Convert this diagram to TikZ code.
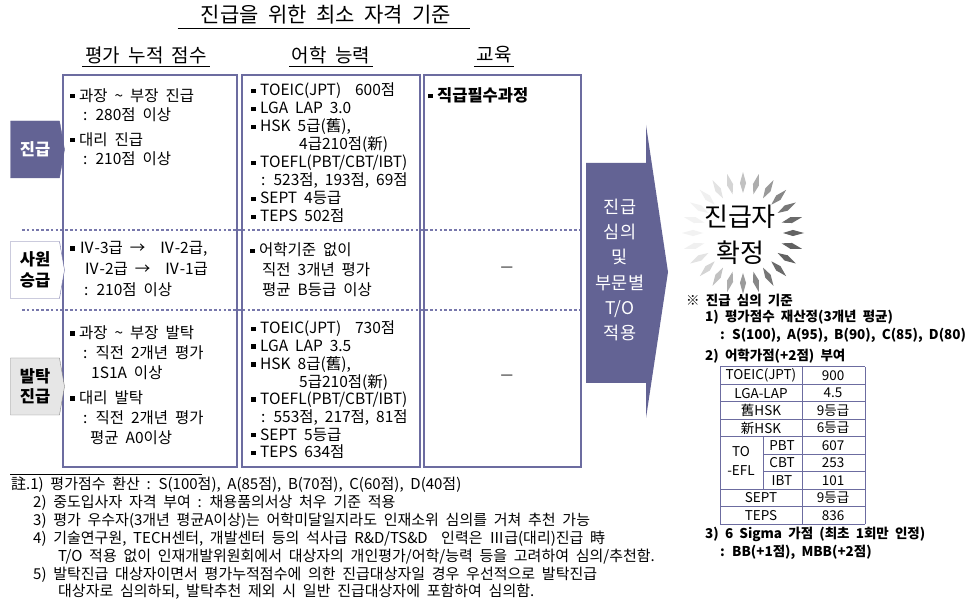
\documentclass[tikz,border=0pt]{standalone}
\usepackage{fontspec}
\setmainfont[WordSpace=2]{Noto Sans CJK KR}
\usetikzlibrary{shapes.symbols}

\definecolor{navy}{RGB}{99,99,148}
\definecolor{frame}{RGB}{108,108,160}
\definecolor{dots}{RGB}{120,120,172}
\definecolor{lgray}{RGB}{230,230,230}

\newcommand\sqbul{\raisebox{2.8pt}{\rule{4.5pt}{4.5pt}}\hspace{4.5pt}}

\tikzset{
  colbox/.style={draw=frame, line width=1.2pt},
  sepline/.style={draw=dots, line width=2.8pt, dash pattern=on 2.6pt off 2.2pt},
  tline/.style={draw=frame, line width=1pt},
  gradetag/.style={shape=signal, signal to=east, signal pointer angle=160,
    minimum width=54pt, minimum height=57pt, inner sep=0pt, align=center,
    font=\fontsize{16.5}{20.5}\selectfont\bfseries},
  txt/.style={anchor=west, inner sep=0pt, align=left},
  head/.style={inner sep=2.5pt, font=\fontsize{19}{22}\selectfont},
  note/.style={anchor=west, inner sep=0pt, font=\fontsize{13.5}{18}\selectfont\bfseries},
  cell/.style={inner sep=0pt, font=\fontsize{13.5}{16}\selectfont}
}

\begin{document}
\begin{tikzpicture}[x=1pt,y=-1pt]
  \fill[white] (0,0) rectangle (972,601);
  \useasboundingbox (0,0) rectangle (972,601);

  \node[inner sep=3pt, font=\fontsize{21}{24}\selectfont] (title) at (326,15) {진급을 위한 최소 자격 기준};
  \draw ([xshift=-20pt]title.south west) -- ([xshift=16pt]title.south east);

  \node[head] (h1) at (146,55) {평가 누적 점수};
  \node[head] (h2) at (331,55) {어학 능력};
  \node[head] (h3) at (494,55) {교육};
  \foreach \h in {h1,h2,h3}
    \draw (\h.south west) -- (\h.south east);

  \draw[sepline] (22,230) -- (581,230);
  \draw[sepline] (22,310) -- (581,310);

  \draw[colbox] (63,75) rectangle (237,467);
  \draw[colbox] (242,75) rectangle (420,467);
  \draw[colbox] (424,75) rectangle (581,467);

  \node[gradetag, fill=navy, draw=navy, text=white] (promo) at (35,149.5) {진급};
  \node[gradetag, fill=white, draw=frame] (staff) at (35,270) {사원\\승급};
  \node[gradetag, fill=lgray, draw=gray] (merit) at (35,386.5) {발탁\\진급};

  \node[txt, font=\fontsize{15.5}{19.5}\selectfont] (c1a) at (70,127) {%
    \sqbul 과장 \textasciitilde{} 부장 진급\\
    \hspace*{13pt}: 280점 이상\\[5pt]
    \sqbul 대리 진급\\
    \hspace*{13pt}: 210점 이상};
  \node[txt, font=\fontsize{15.5}{18}\selectfont] (c2a) at (251,153) {%
    \sqbul TOEIC(JPT)\ \ 600점\\
    \sqbul LGA LAP 3.0\\
    \sqbul HSK 5급(舊),\\
    \hspace*{48pt}4급210점(新)\\
    \sqbul TOEFL(PBT/CBT/IBT)\\
    \hspace*{10pt}: 523점, 193점, 69점\\
    \sqbul SEPT 4등급\\
    \sqbul TEPS 502점};
  \node[txt, font=\fontsize{16.5}{18}\selectfont\bfseries] (c3a) at (428,95) {\sqbul 직급필수과정};

  \node[txt, font=\fontsize{15.5}{21}\selectfont] (c1b) at (70,269) {%
    \sqbul Ⅳ-3급\ → \ Ⅳ-2급,\\
    \hspace*{14pt}Ⅳ-2급\ → \ Ⅳ-1급\\
    \hspace*{14pt}: 210점 이상};
  \node[txt, font=\fontsize{15.5}{20}\selectfont] (c2b) at (250,270) {%
    \sqbul 어학기준 없이\\
    \hspace*{12pt}직전 3개년 평가\\
    \hspace*{12pt}평균 B등급 이상};
  \node[inner sep=0pt, font=\fontsize{14}{18}\selectfont] (c3b) at (507,269) {—};

  \node[txt, font=\fontsize{15.5}{20}\selectfont] (c1c) at (70,385.5) {%
    \sqbul 과장 \textasciitilde{} 부장 발탁\\
    \hspace*{13pt}: 직전 2개년 평가\\
    \hspace*{21pt}1S1A 이상\\[5pt]
    \sqbul 대리 발탁\\
    \hspace*{13pt}: 직전 2개년 평가\\
    \hspace*{20pt}평균 A0이상};
  \node[txt, font=\fontsize{15.5}{17.7}\selectfont] (c2c) at (251,390) {%
    \sqbul TOEIC(JPT)\ \ 730점\\
    \sqbul LGA LAP 3.5\\
    \sqbul HSK 8급(舊),\\
    \hspace*{48pt}5급210점(新)\\
    \sqbul TOEFL(PBT/CBT/IBT)\\
    \hspace*{10pt}: 553점, 217점, 81점\\
    \sqbul SEPT 5등급\\
    \sqbul TEPS 634점};
  \node[inner sep=0pt, font=\fontsize{14}{18}\selectfont] (c3c) at (507,377) {—};

  \fill[navy] (586,163) -- (646,163) -- (646,125) -- (668,272) -- (646,418)
    -- (646,383) -- (586,383) -- cycle;
  \node[align=center, text=white, inner sep=0pt, font=\fontsize{17.5}{25.2}\selectfont] (review)
    at (620,270) {진급\\심의\\및\\부문별\\T/O\\적용};

  \begin{scope}[shift={(743,233)}]
    \foreach \a in {0,15,...,345} {
      \pgfmathsetmacro\v{max(5,32+30*cos(\a-15))}
      \fill[black!\v] (\a:40) -- (\a+3.5:50) -- (\a:61) -- (\a-3.5:50) -- cycle;
    }
  \end{scope}
  \node[align=center, inner sep=0pt, font=\fontsize{26}{36}\selectfont] (final) at (740,235) {진급자\\확정};

  \node[note] (crit) at (686,300) {※ 진급 심의 기준};
  \node[note] (rescore) at (705,317) {1) 평가점수 재산정(3개년 평균)};
  \node[note] (scale) at (720,335) {: S(100), A(95), B(90), C(85), D(80)};
  \node[note] (bonus) at (705,356) {2) 어학가점(+2점) 부여};

  \foreach \yy in {367,384.4,401.9,419.3,436.8,489.1,506.6,524}
    \draw[tline] (720,\yy) -- (865,\yy);
  \foreach \yy in {454.2,471.7}
    \draw[tline] (763,\yy) -- (865,\yy);
  \draw[tline] (720,367) -- (720,524);
  \draw[tline] (802,367) -- (802,524);
  \draw[tline] (865,367) -- (865,524);
  \draw[tline] (763,436.8) -- (763,489.1);

  \node[cell] (toeic) at (761,375.7) {TOEIC(JPT)};
  \node[cell] (toeicv) at (833,375.7) {900};
  \node[cell] (lga) at (761,393.2) {LGA-LAP};
  \node[cell] (lgav) at (833,393.2) {4.5};
  \node[cell] (oldhsk) at (761,410.6) {舊HSK};
  \node[cell] (oldhskv) at (833,410.6) {9등급};
  \node[cell] (newhsk) at (761,428) {新HSK};
  \node[cell] (newhskv) at (833,428) {6등급};
  \node[cell, align=center, font=\fontsize{13.5}{19}\selectfont] (toefl) at (741,461) {TO\\-EFL};
  \node[cell] (pbt) at (782,445.5) {PBT};
  \node[cell] (pbtv) at (833,445.5) {607};
  \node[cell] (cbt) at (782,463) {CBT};
  \node[cell] (cbtv) at (833,463) {253};
  \node[cell] (ibt) at (782,480.4) {IBT};
  \node[cell] (ibtv) at (833,480.4) {101};
  \node[cell] (sept) at (761,497.8) {SEPT};
  \node[cell] (septv) at (833,497.8) {9등급};
  \node[cell] (teps) at (761,515.3) {TEPS};
  \node[cell] (tepsv) at (833,515.3) {836};

  \node[note] (sigma) at (705,534) {3) 6 Sigma 가점 (최초 1회만 인정)};
  \node[note] (belt) at (720,552) {: BB(+1점), MBB(+2점)};

  \draw (10,474) -- (202,474);
  \node[txt, font=\fontsize{15}{17.83}\selectfont] (remarks) at (11,538.5) {%
    註.1) 평가점수 환산 : S(100점), A(85점), B(70점), C(60점), D(40점)\\
    \hspace*{22pt}2) 중도입사자 자격 부여 : 채용품의서상 처우 기준 적용\\
    \hspace*{22pt}3) 평가 우수자(3개년 평균A이상)는 어학미달일지라도 인재소위 심의를 거쳐 추천 가능\\
    \hspace*{22pt}4) 기술연구원, TECH센터, 개발센터 등의 석사급 R\&D/TS\&D\ \ 인력은 Ⅲ급(대리)진급 時\\
    \hspace*{47pt}T/O 적용 없이 인재개발위원회에서 대상자의 개인평가/어학/능력 등을 고려하여 심의/추천함.\\
    \hspace*{22pt}5) 발탁진급 대상자이면서 평가누적점수에 의한 진급대상자일 경우 우선적으로 발탁진급\\
    \hspace*{47pt}대상자로 심의하되, 발탁추천 제외 시 일반 진급대상자에 포함하여 심의함.};
\end{tikzpicture}
\end{document}
